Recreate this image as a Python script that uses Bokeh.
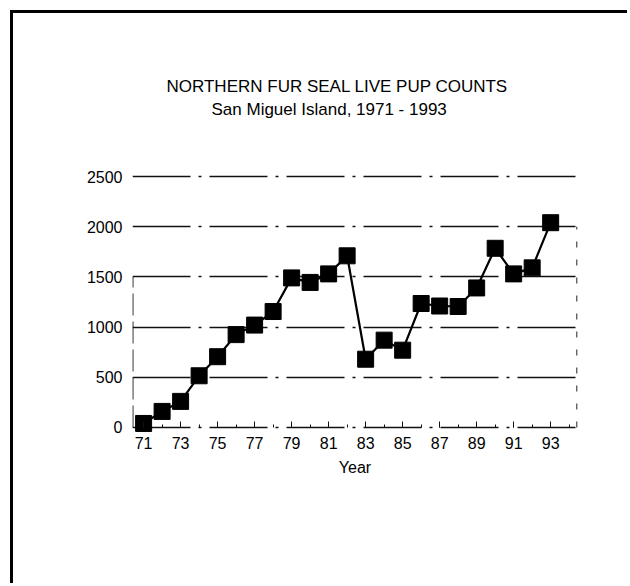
from bokeh.plotting import figure
from bokeh.models import FixedTicker, Range1d, LinearAxis, Title
from bokeh.embed import file_html
from bokeh.resources import INLINE

# ---- data ----
years = [71, 72, 73, 74, 75, 76, 77, 78, 79, 80, 81, 82, 83, 84, 85, 86, 87, 88, 89, 90, 91, 92, 93]
pup_counts = [40, 160, 260, 515, 705, 925, 1020, 1155, 1490, 1445, 1530, 1710,
              680, 870, 770, 1235, 1210, 1205, 1390, 1785, 1530, 1590, 2040]
x_tick_years = [71, 73, 75, 77, 79, 81, 83, 85, 87, 89, 91, 93]
y_ticks = [0, 500, 1000, 1500, 2000, 2500]
title_text = "NORTHERN FUR SEAL LIVE PUP COUNTS"
subtitle_text = "San Miguel Island, 1971 - 1993"
x_label = "Year"

FONT = "Liberation Sans"

x_lo, x_hi = 70.4, 94.45
y_lo, y_hi = -60, 2530

p = figure(width=617, height=573, output_backend="svg", toolbar_location=None,
           x_range=Range1d(x_lo, x_hi), y_range=Range1d(y_lo, y_hi),
           min_border_left=119, min_border_right=53, min_border_top=160,
           min_border_bottom=153)
p.outline_line_color = None
p.background_fill_color = "white"
p.border_fill_color = "white"

# invisible spacer next to the frame, then subtitle, main title outermost
p.add_layout(Title(text=".", text_font_size="2px", text_color="white", standoff=51), "above")
p.add_layout(Title(text=subtitle_text, align="left", offset=79, text_font=FONT,
                   text_font_size="17px", text_font_style="normal",
                   text_color="black", standoff=2), "above")
p.title.text = title_text
p.title.align = "left"
p.title.offset = 34
p.title.text_font = FONT
p.title.text_font_size = "17px"
p.title.text_font_style = "normal"
p.title.text_color = "black"
p.title.standoff = 2

# grid
p.xgrid.visible = False
p.ygrid.ticker = FixedTicker(ticks=y_ticks)
p.ygrid.grid_line_color = "#111111"
p.ygrid.grid_line_width = 1.3
p.ygrid.grid_line_dash = "58 8 3 8"

# y axis
p.yaxis.ticker = FixedTicker(ticks=y_ticks)
p.yaxis.axis_line_color = None
p.yaxis.major_tick_line_color = None
p.yaxis.minor_tick_line_color = None
p.yaxis.major_tick_out = 0
p.yaxis.major_tick_in = 0
p.yaxis.major_label_standoff = 10
p.yaxis.major_label_text_font = FONT
p.yaxis.major_label_text_font_size = "16px"
p.yaxis.major_label_text_color = "black"

# x axis (labels) at the frame bottom
p.xaxis.ticker = FixedTicker(ticks=x_tick_years)
p.xaxis.axis_line_color = None
p.xaxis.major_tick_line_color = None
p.xaxis.minor_tick_line_color = None
p.xaxis.major_tick_out = 0
p.xaxis.major_label_standoff = 3
p.xaxis.major_label_text_font = FONT
p.xaxis.major_label_text_font_size = "16px"
p.xaxis.major_label_text_color = "black"
p.xaxis.axis_label = x_label
p.xaxis.axis_label_standoff = 7
p.xaxis.axis_label_text_font = FONT
p.xaxis.axis_label_text_font_size = "16px"
p.xaxis.axis_label_text_font_style = "normal"
p.xaxis.axis_label_text_color = "black"

# tick marks along the zero line
tick_axis = LinearAxis(fixed_location=0,
                       ticker=FixedTicker(ticks=x_tick_years, minor_ticks=list(range(71, 95))),
                       axis_line_color=None, major_tick_in=6, major_tick_out=0,
                       minor_tick_in=3, minor_tick_out=0,
                       major_tick_line_color="#111111", minor_tick_line_color="#111111",
                       major_label_text_color=None)
p.add_layout(tick_axis, "below")

# side frame pieces (dashed)
p.line([x_lo + 0.02, x_lo + 0.02], [0, 1500], line_color="#111111", line_width=1.2, line_dash="22 6")
p.line([x_hi - 0.03, x_hi - 0.03], [0, 2000], line_color="#111111", line_width=1.2, line_dash="6 12")

# data
p.line(years, pup_counts, line_color="black", line_width=2.2)
p.scatter(years, pup_counts, marker="square", size=16, fill_color="black", line_color="black")

# page border (top and left edges visible)
p.styles = {"margin-left": "10px", "margin-top": "10px",
            "border-top": "3px solid black", "border-left": "3px solid black"}

open("out.html", "w").write(file_html(p, INLINE))
